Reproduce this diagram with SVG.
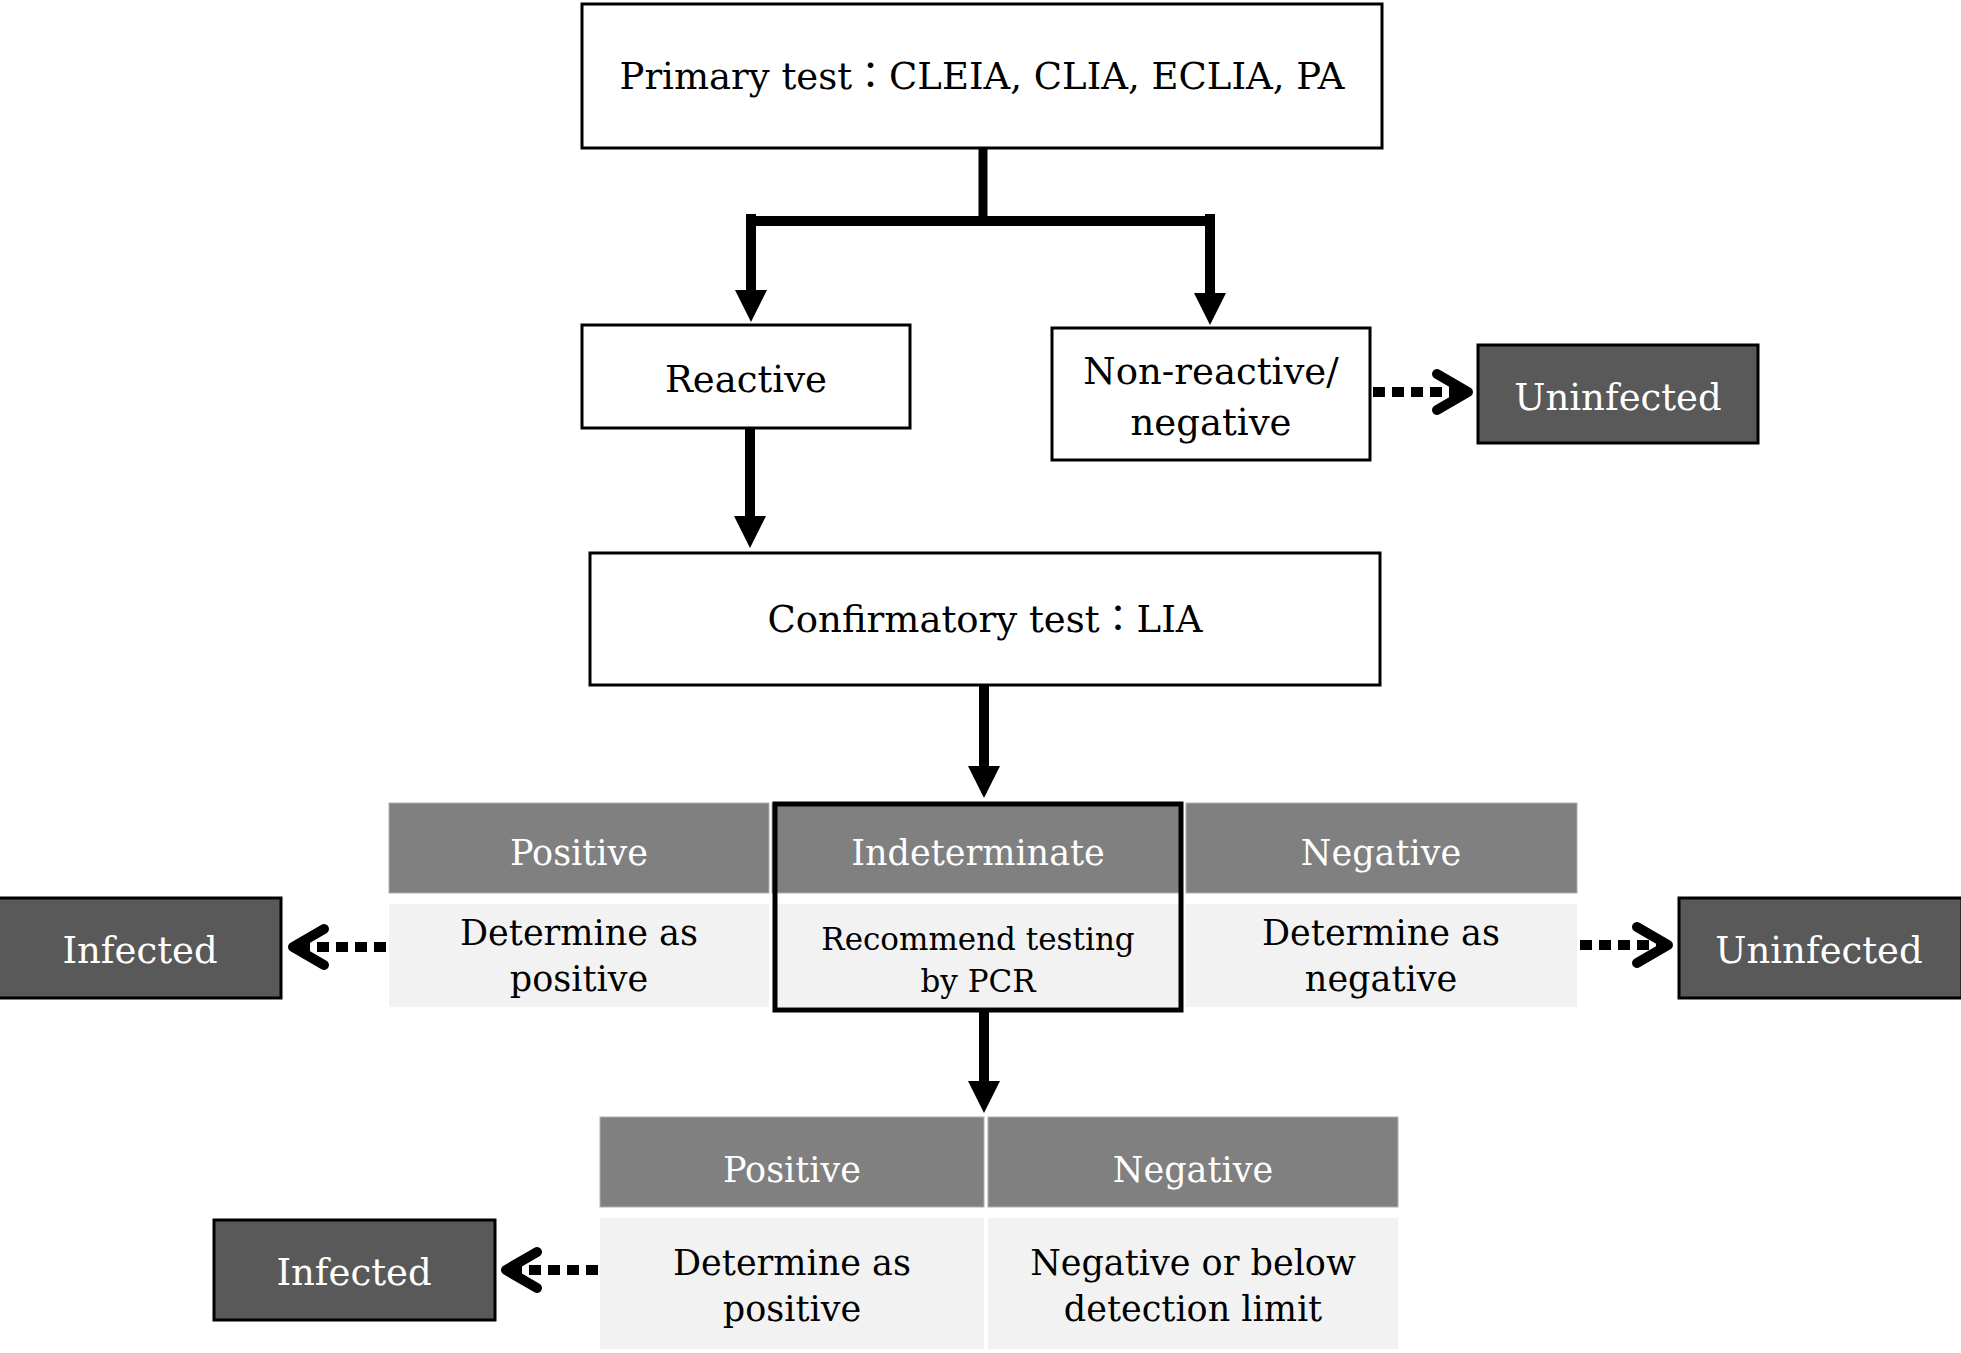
<svg xmlns="http://www.w3.org/2000/svg" width="1961" height="1353" viewBox="0 0 1961 1353">
<style>
  .box { fill: #ffffff; stroke: #000000; stroke-width: 3; }
  .dark { fill: #595959; stroke: #000000; stroke-width: 3; }
  .hdr { fill: #808080; stroke: #b0b0b0; stroke-width: 1; }
  .body { fill: #f2f2f2; }
  .frame { fill: none; stroke: #000000; stroke-width: 5; }
  .t { font-family: "DejaVu Serif", "Noto Sans CJK JP", serif; text-anchor: middle; fill: #000000; }
  .big { font-size: 37px; }
  .tb { font-size: 35px; }
  .sm { font-size: 31px; }
  .w { fill: #ffffff; }
  .solid { fill: none; stroke: #000000; stroke-width: 10; }
  .dot { fill: none; stroke: #000000; stroke-width: 10; stroke-dasharray: 12 7; }
</style>
<defs>
  <marker id="ah" markerUnits="userSpaceOnUse" markerWidth="40" markerHeight="40" viewBox="0 -20 40 40" refX="0" refY="0" orient="auto">
    <path d="M0,-16 L32,0 L0,16 Z" fill="#000000"/>
  </marker>
  <marker id="chev" markerUnits="userSpaceOnUse" markerWidth="60" markerHeight="60" viewBox="-40 -30 50 60" refX="0" refY="0" orient="auto">
    <path d="M-31,-18 L0,0 L-31,18" fill="none" stroke="#000000" stroke-width="10" stroke-linecap="round" stroke-linejoin="round"/>
  </marker>
</defs>
<rect width="1961" height="1353" fill="#ffffff"/>

<g id="primary">
  <rect class="box" x="582" y="4" width="800" height="144"/>
  <text class="t big" x="982" y="89">Primary test：CLEIA, CLIA, ECLIA, PA</text>
</g>
<g id="reactive">
  <rect class="box" x="582" y="325" width="328" height="103"/>
  <text class="t big" x="746" y="392">Reactive</text>
</g>
<g id="nonreactive">
  <rect class="box" x="1052" y="328" width="318" height="132"/>
  <text class="t big" x="1211" y="384">Non-reactive/</text>
  <text class="t big" x="1211" y="435">negative</text>
</g>
<g id="uninfected-top">
  <rect class="dark" x="1478" y="345" width="280" height="98"/>
  <text class="t big w" x="1618" y="410">Uninfected</text>
</g>
<g id="confirmatory">
  <rect class="box" x="590" y="553" width="790" height="132"/>
  <text class="t big" x="985" y="632">Confirmatory test：LIA</text>
</g>

<g id="lia-positive">
  <rect class="hdr" x="389" y="803" width="380" height="90"/>
  <rect class="body" x="389" y="904" width="380" height="103"/>
  <text class="t tb w" x="579" y="865">Positive</text>
  <text class="t tb" x="579" y="945">Determine as</text>
  <text class="t tb" x="579" y="991">positive</text>
</g>
<g id="lia-indeterminate">
  <rect class="hdr" x="772" y="803" width="410" height="90"/>
  <rect class="body" x="772" y="904" width="410" height="103"/>
  <rect class="frame" x="775" y="804" width="406" height="206"/>
  <text class="t tb w" x="978" y="865">Indeterminate</text>
  <text class="t sm" x="978" y="950">Recommend testing</text>
  <text class="t sm" x="978" y="992">by PCR</text>
</g>
<g id="lia-negative">
  <rect class="hdr" x="1186" y="803" width="391" height="90"/>
  <rect class="body" x="1186" y="904" width="391" height="103"/>
  <text class="t tb w" x="1381" y="865">Negative</text>
  <text class="t tb" x="1381" y="945">Determine as</text>
  <text class="t tb" x="1381" y="991">negative</text>
</g>
<g id="infected-mid">
  <rect class="dark" x="-2" y="898" width="283" height="100"/>
  <text class="t big w" x="140" y="963">Infected</text>
</g>
<g id="uninfected-mid">
  <rect class="dark" x="1679" y="898" width="283" height="100"/>
  <text class="t big w" x="1819" y="963">Uninfected</text>
</g>

<g id="pcr-positive">
  <rect class="hdr" x="600" y="1117" width="384" height="90"/>
  <rect class="body" x="600" y="1218" width="384" height="131"/>
  <text class="t tb w" x="792" y="1182">Positive</text>
  <text class="t tb" x="792" y="1275">Determine as</text>
  <text class="t tb" x="792" y="1321">positive</text>
</g>
<g id="pcr-negative">
  <rect class="hdr" x="988" y="1117" width="410" height="90"/>
  <rect class="body" x="988" y="1218" width="410" height="131"/>
  <text class="t tb w" x="1193" y="1182">Negative</text>
  <text class="t tb" x="1193" y="1275">Negative or below</text>
  <text class="t tb" x="1193" y="1321">detection limit</text>
</g>
<g id="infected-bottom">
  <rect class="dark" x="214" y="1220" width="281" height="100"/>
  <text class="t big w" x="354" y="1285">Infected</text>
</g>

<g id="connectors">
  <path class="solid" d="M983,148 V221" style="stroke-width:9"/>
  <path class="solid" d="M746,221 H1215"/>
  <path class="solid" d="M751,214 V290" marker-end="url(#ah)"/>
  <path class="solid" d="M1210,214 V293" marker-end="url(#ah)"/>
  <path class="solid" d="M750,428 V516" marker-end="url(#ah)"/>
  <path class="solid" d="M984,685 V766" marker-end="url(#ah)"/>
  <path class="solid" d="M984,1012 V1081" marker-end="url(#ah)"/>
  <path class="dot" d="M1373,392 H1468" marker-end="url(#chev)"/>
  <path class="dot" d="M386,947 H293" marker-end="url(#chev)"/>
  <path class="dot" d="M1580,945 H1668" marker-end="url(#chev)"/>
  <path class="dot" d="M598,1270 H506" marker-end="url(#chev)"/>
</g>
</svg>
